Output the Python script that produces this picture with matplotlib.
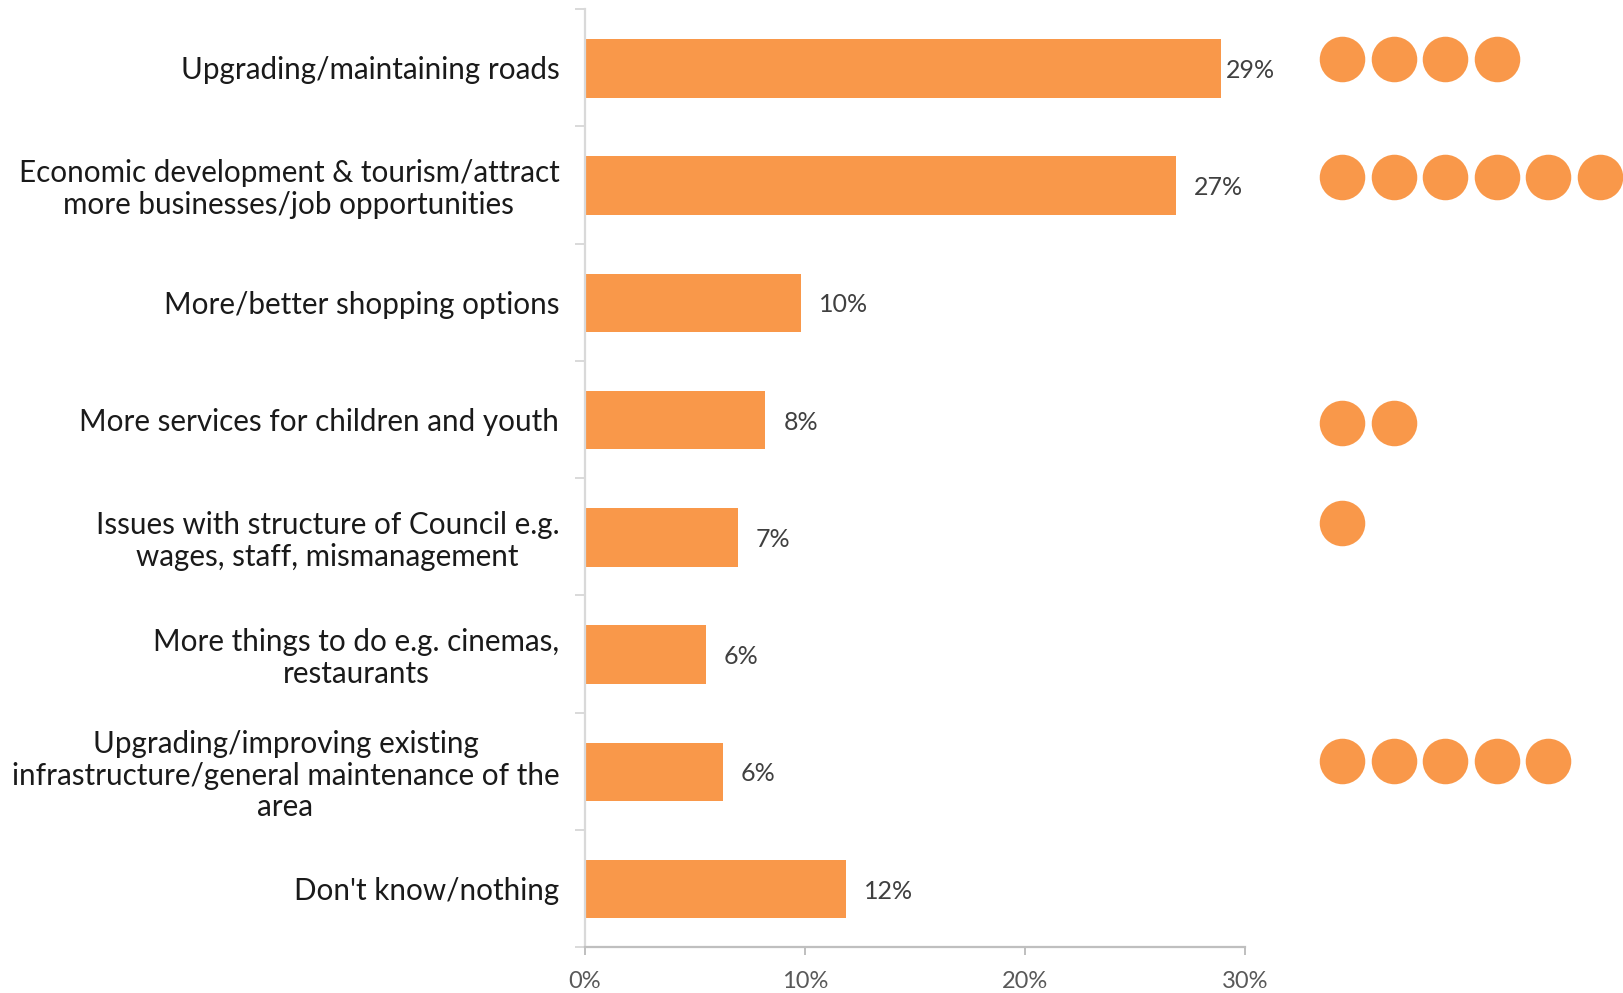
import matplotlib
matplotlib.use('Agg')
import matplotlib.pyplot as plt

categories = [
    'Upgrading/maintaining roads',
    'Economic development & tourism/attract\nmore businesses/job opportunities',
    'More/better shopping options',
    'More services for children and youth',
    'Issues with structure of Council e.g.\nwages, staff, mismanagement',
    'More things to do e.g. cinemas,\nrestaurants',
    'Upgrading/improving existing\ninfrastructure/general maintenance of the\narea',
    "Don't know/nothing",
]
values = [28.9, 26.85, 9.8, 8.2, 6.95, 5.5, 6.25, 11.85]
value_labels = ['29%', '27%', '10%', '8%', '7%', '6%', '6%', '12%']
circle_counts = [4, 6, 0, 2, 1, 0, 5, 0]
x_ticks = [0, 10, 20, 30]

ORANGE = '#f9984a'
W, H = 1623, 993
plt.rcParams['font.family'] = ['Lato', 'DejaVu Sans']

fig = plt.figure(figsize=(W / 100, H / 100), dpi=100)
ax = fig.add_axes([585 / W, 1 - 947 / H, 660 / W, 938 / H])

# bars sit a touch below the middle of each group
groups = list(range(len(categories)))
ypos = [i + 0.006 for i in groups]
ax.barh(ypos, values, height=0.5, color=ORANGE)
ax.set_xlim(0, 30)
ax.set_ylim(len(categories) - 0.5, -0.5)

for s in ['top', 'right']:
    ax.spines[s].set_visible(False)
ax.spines['left'].set_color('#d9d9d9')
ax.spines['left'].set_linewidth(1.6)
ax.spines['bottom'].set_color('#bfbfbf')
ax.spines['bottom'].set_linewidth(1.6)

# group separators are the major ticks, category names sit on the minor ones
ax.set_yticks([i - 0.5 for i in range(len(categories) + 1)])
ax.set_yticklabels([])
ax.tick_params(axis='y', which='major', length=7, width=1.4, color='#d9d9d9')
ax.set_yticks(groups, minor=True)
ax.set_yticklabels(categories, minor=True, fontsize=21.3, color='#1a1a1a',
                   ha='right', multialignment='center', linespacing=1.17)
ax.tick_params(axis='y', which='minor', length=0, pad=18.5)

ax.set_xticks(x_ticks)
ax.set_xticklabels([f'{t}%' for t in x_ticks], fontsize=17, color='#595959')
ax.tick_params(axis='x', length=6, width=1.4, color='#bfbfbf', pad=11)

for v, lab, y in zip(values, value_labels, ypos):
    off = 3.5 if y < 1 else 13
    ax.annotate(lab, (v, y), xytext=(off, -1.5), textcoords='offset points',
                va='center', ha='left', fontsize=18, color='#404040')

# circles to the right of the chart, columns in percent units
circle_x = [34.42, 36.75, 39.1, 41.45, 43.75, 46.15]
circle_shift = [-0.07, -0.07, 0, 0.03, -0.12, 0, -0.09, 0]
for i, n in enumerate(circle_counts):
    if n:
        ax.scatter(circle_x[:n], [i + circle_shift[i]] * n, s=1075, color=ORANGE,
                   linewidths=0, clip_on=False, zorder=3)

fig.savefig('out.png', dpi=100)
